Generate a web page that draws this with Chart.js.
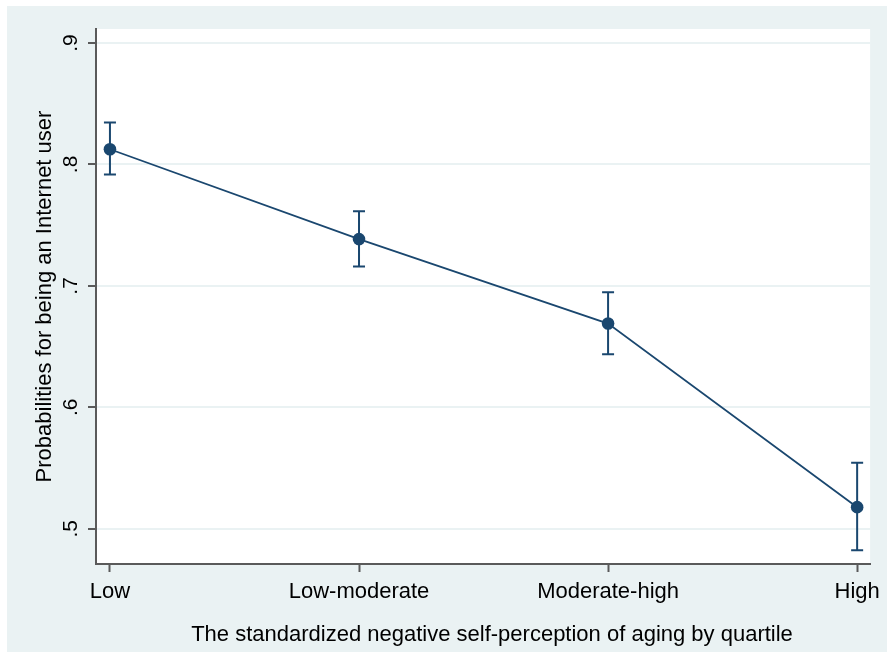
<!DOCTYPE html>
<html>
<head>
<meta charset="utf-8">
<script src="https://cdn.jsdelivr.net/npm/chart.js@4"></script>
<style>
  html, body { margin: 0; padding: 0; background: #ffffff; }
  #wrap { width: 887px; height: 652px; }
</style>
</head>
<body>
<div id="wrap"><canvas id="c" width="887" height="652"></canvas></div>
<script>
// Quartiles of the standardized negative self-perception of aging
const categories = ['Low', 'Low-moderate', 'Moderate-high', 'High'];
// Predicted probability of being an Internet user, with 95% CI
const probability = [0.8125, 0.7385, 0.6690, 0.5178];
const ciLower = [0.7918, 0.7160, 0.6438, 0.4824];
const ciUpper = [0.8345, 0.7615, 0.6948, 0.5543];
const yTickValues = [0.5, 0.6, 0.7, 0.8, 0.9];
const yTickLabels = ['.5', '.6', '.7', '.8', '.9'];
const xTitle = 'The standardized negative self-perception of aging by quartile';
const yTitle = 'Probabilities for being an Internet user';

const NAVY = '#1a476f';
const PANEL = '#eaf2f3';
const AXIS = '#5a5a5a';
const FONT = "'Liberation Sans', Arial, sans-serif";

const points = categories.map((c, i) => ({ x: i, y: probability[i] }));

// Background: light bluish-gray graph region, white plot region
const backgroundPlugin = {
  id: 'background',
  beforeDraw(chart) {
    const { ctx, chartArea: a } = chart;
    ctx.save();
    ctx.fillStyle = '#ffffff';
    ctx.fillRect(0, 0, chart.width, chart.height);
    ctx.fillStyle = PANEL;
    ctx.fillRect(7, 6, chart.width - 7, chart.height - 6);
    ctx.fillStyle = '#ffffff';
    ctx.fillRect(a.left, a.top, a.right - a.left, a.bottom - a.top);
    ctx.restore();
  }
};

// Confidence-interval whiskers with caps
const errorBarPlugin = {
  id: 'errorBars',
  beforeDatasetsDraw(chart) {
    const { ctx, scales: { x, y } } = chart;
    ctx.save();
    ctx.strokeStyle = NAVY;
    ctx.lineWidth = 2;
    const cap = 6;
    categories.forEach((c, i) => {
      const px = x.getPixelForValue(i);
      const top = y.getPixelForValue(ciUpper[i]);
      const bot = y.getPixelForValue(ciLower[i]);
      ctx.beginPath();
      ctx.moveTo(px, top); ctx.lineTo(px, bot);
      ctx.moveTo(px - cap, top); ctx.lineTo(px + cap, top);
      ctx.moveTo(px - cap, bot); ctx.lineTo(px + cap, bot);
      ctx.stroke();
    });
    ctx.restore();
  }
};

// Vertical y tick labels (reading bottom to top) and the x-axis title
const textPlugin = {
  id: 'axisText',
  afterDraw(chart) {
    const { ctx, scales: { y } } = chart;
    ctx.save();
    ctx.fillStyle = '#000000';
    ctx.font = '21px ' + FONT;
    ctx.textAlign = 'center';
    ctx.textBaseline = 'middle';
    yTickValues.forEach((v, i) => {
      const py = y.getPixelForValue(v);
      ctx.save();
      ctx.translate(71, py);
      ctx.rotate(-Math.PI / 2);
      ctx.fillText(yTickLabels[i], 0, 0);
      ctx.restore();
    });
    ctx.font = '22px ' + FONT;
    ctx.fillText(xTitle, 492, 635);
    ctx.restore();
  }
};

new Chart(document.getElementById('c'), {
  type: 'line',
  data: {
    datasets: [{
      data: points,
      borderColor: NAVY,
      backgroundColor: NAVY,
      borderWidth: 1.8,
      pointRadius: 6.3,
      pointHoverRadius: 6.3,
      pointBackgroundColor: NAVY,
      pointBorderColor: NAVY,
      pointBorderWidth: 0,
      tension: 0,
      fill: false
    }]
  },
  options: {
    responsive: false,
    animation: false,
    devicePixelRatio: 1,
    layout: { padding: { left: 0, top: 29, right: 14, bottom: 0 } },
    plugins: { legend: { display: false }, tooltip: { enabled: false } },
    scales: {
      x: {
        type: 'linear',
        min: -0.056,
        max: 3.052,
        afterFit(s) { s.height = 88; },
        afterBuildTicks(s) { s.ticks = categories.map((c, i) => ({ value: i })); },
        border: { display: true, color: AXIS, width: 2 },
        grid: { drawOnChartArea: false, drawTicks: true, tickLength: 8, tickColor: AXIS, tickWidth: 2 },
        ticks: {
          callback: (v) => categories[v],
          color: '#000000',
          font: { family: FONT, size: 22 },
          padding: 7,
          maxRotation: 0,
          autoSkip: false
        },
        title: { display: false }
      },
      y: {
        type: 'linear',
        min: 0.471,
        max: 0.9115,
        afterFit(s) { s.width = 96; },
        afterBuildTicks(s) { s.ticks = yTickValues.map(v => ({ value: v })); },
        border: { display: true, color: AXIS, width: 2 },
        grid: { color: PANEL, lineWidth: 2, drawTicks: true, tickLength: 8, tickColor: AXIS, tickWidth: 2 },
        ticks: { display: false },
        title: {
          display: true,
          text: yTitle,
          color: '#000000',
          font: { family: FONT, size: 22 },
          padding: { top: 32, bottom: 0 }
        }
      }
    }
  },
  plugins: [backgroundPlugin, errorBarPlugin, textPlugin]
});
</script>
</body>
</html>
